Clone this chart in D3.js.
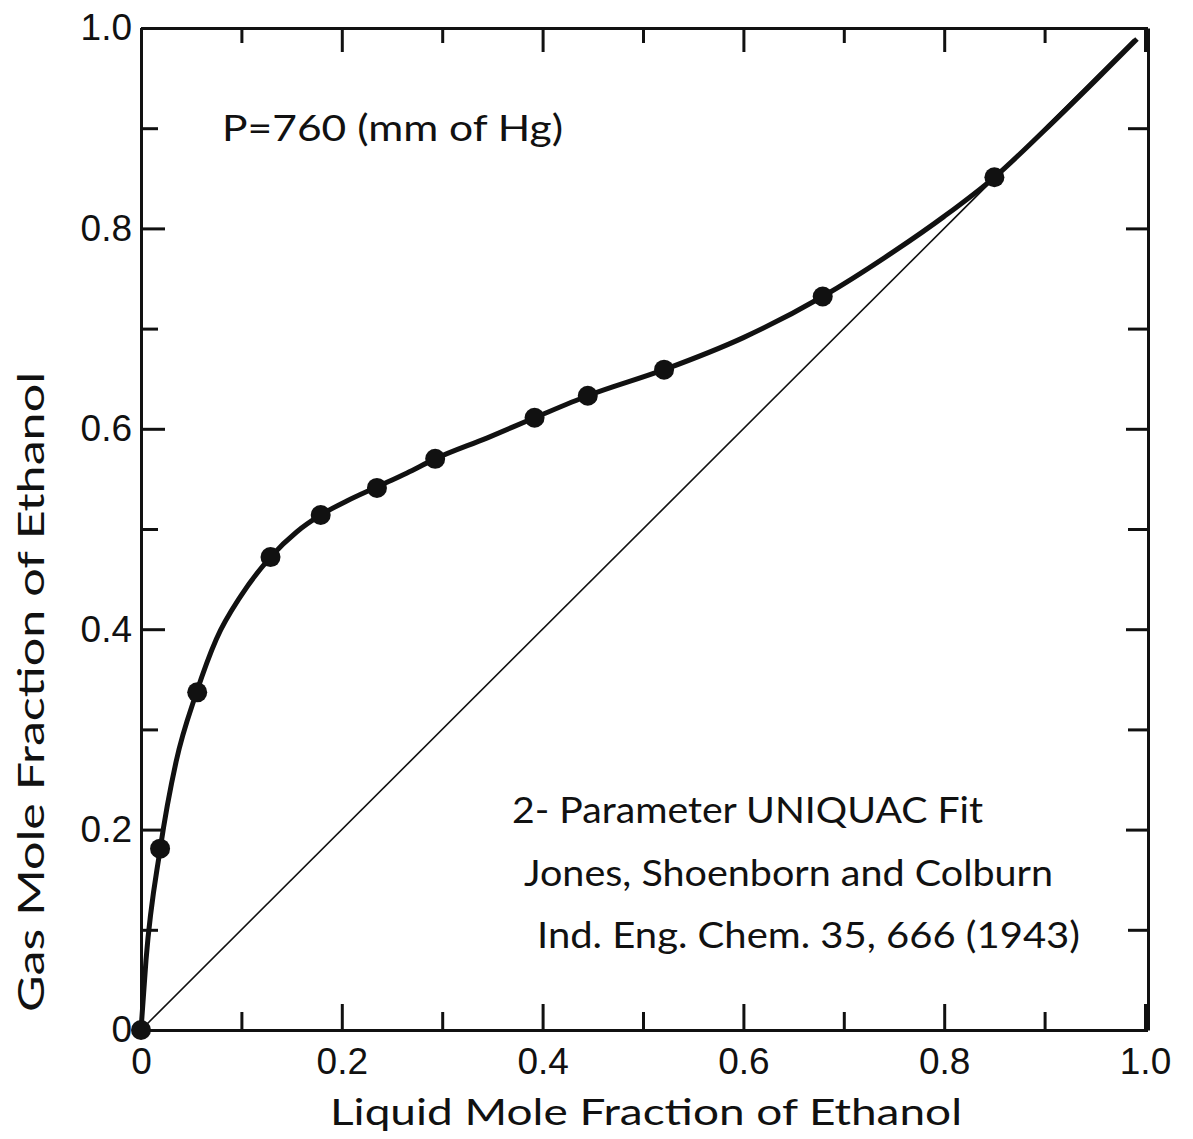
<!DOCTYPE html>
<html>
<head>
<meta charset="utf-8"/>
<script src="https://d3js.org/d3.v7.min.js"></script>
<style>
  body { margin: 0; background: #fff; }
  svg { display: block; font-family: Lato, "DejaVu Sans", sans-serif; }
  .axis path, .axis line { stroke: #111; stroke-width: 3; }
  .axis text { font-size: 37px; fill: #111; }
  .lbl { font-size: 37px; fill: #111; }
</style>
</head>
<body>
<div id="chart"></div>
<script>
// experimental points (liquid x, vapour y)
var liquidX = [0.0, 0.019, 0.056, 0.129, 0.179, 0.235, 0.293, 0.392, 0.445, 0.521, 0.679, 0.850];
var gasY    = [0.0, 0.181, 0.337, 0.472, 0.514, 0.541, 0.570, 0.611, 0.633, 0.659, 0.732, 0.851];

// UNIQUAC fit curve
var fitX = [0.0, 0.005, 0.019, 0.035, 0.055, 0.075, 0.100, 0.129, 0.155, 0.179, 0.205, 0.235, 0.265, 0.293, 0.345, 0.392, 0.445, 0.521, 0.600, 0.679, 0.750, 0.800, 0.850, 0.900, 0.950, 0.992];
var fitY = [0.0, 0.070, 0.180, 0.268, 0.336, 0.390, 0.434, 0.472, 0.497, 0.514, 0.528, 0.542, 0.556, 0.570, 0.591, 0.611, 0.633, 0.659, 0.691, 0.732, 0.777, 0.812, 0.851, 0.898, 0.947, 0.989];

// y = x reference line
var diagX = [0.0, 0.989];

var majorTicks = [0, 0.2, 0.4, 0.6, 0.8, 1.0];
var minorTicks = [0.1, 0.3, 0.5, 0.7, 0.9];
var majorLabels = ["0", "0.2", "0.4", "0.6", "0.8", "1.0"];

var W = 1193, H = 1139;
var x = d3.scaleLinear().domain([0, 1]).range([141, 1145]);
var y = d3.scaleLinear().domain([0, 1]).range([1030, 28]);

var svg = d3.select("#chart").append("svg")
    .attr("width", W)
    .attr("height", H);

function fmt(d) { return majorLabels[majorTicks.indexOf(d)]; }

// bottom axis
svg.append("g").attr("class", "axis")
    .attr("transform", "translate(0," + y(0) + ")")
    .call(d3.axisBottom(x).tickValues(majorTicks).tickFormat(fmt).tickSizeInner(-26).tickSizeOuter(0).tickPadding(18));
svg.append("g").attr("class", "axis")
    .attr("transform", "translate(0," + y(0) + ")")
    .call(d3.axisBottom(x).tickValues(minorTicks).tickFormat("").tickSizeInner(-18).tickSizeOuter(0))
    .select(".domain").remove();

// left axis
svg.append("g").attr("class", "axis")
    .attr("transform", "translate(" + x(0) + ",0)")
    .call(d3.axisLeft(y).tickValues(majorTicks).tickFormat(fmt).tickSizeInner(-24).tickSizeOuter(0).tickPadding(9));
svg.append("g").attr("class", "axis")
    .attr("transform", "translate(" + x(0) + ",0)")
    .call(d3.axisLeft(y).tickValues(minorTicks).tickFormat("").tickSizeInner(-17).tickSizeOuter(0))
    .select(".domain").remove();

// top axis
svg.append("g").attr("class", "axis")
    .attr("transform", "translate(0," + y(1) + ")")
    .call(d3.axisTop(x).tickValues(majorTicks).tickFormat("").tickSizeInner(-24).tickSizeOuter(0));
svg.append("g").attr("class", "axis")
    .attr("transform", "translate(0," + y(1) + ")")
    .call(d3.axisTop(x).tickValues(minorTicks).tickFormat("").tickSizeInner(-15).tickSizeOuter(0))
    .select(".domain").remove();

// right axis
svg.append("g").attr("class", "axis")
    .attr("transform", "translate(" + (x(1) + 3) + ",0)")
    .call(d3.axisRight(y).tickValues(majorTicks).tickFormat("").tickSizeInner(-22).tickSizeOuter(0));
svg.append("g").attr("class", "axis")
    .attr("transform", "translate(" + (x(1) + 3) + ",0)")
    .call(d3.axisRight(y).tickValues(minorTicks).tickFormat("").tickSizeInner(-20).tickSizeOuter(0))
    .select(".domain").remove();

// diagonal
svg.append("line")
    .attr("x1", x(diagX[0])).attr("y1", y(diagX[0]))
    .attr("x2", x(diagX[1])).attr("y2", y(diagX[1]))
    .attr("stroke", "#111").attr("stroke-width", 1.6);

// fit curve
var line = d3.line()
    .x(function(d) { return x(d[0]); })
    .y(function(d) { return y(d[1]); })
    .curve(d3.curveMonotoneX);
svg.append("path")
    .datum(fitX.map(function(v, i) { return [v, fitY[i]]; }))
    .attr("d", line)
    .attr("fill", "none")
    .attr("stroke", "#111")
    .attr("stroke-width", 5);

// points
svg.selectAll("circle.pt")
    .data(liquidX.map(function(v, i) { return [v, gasY[i]]; }))
    .enter().append("circle")
    .attr("class", "pt")
    .attr("cx", function(d) { return x(d[0]); })
    .attr("cy", function(d) { return y(d[1]); })
    .attr("r", 10)
    .attr("fill", "#111");

// texts
function label(t, px, py, len) {
    svg.append("text").attr("class", "lbl")
        .attr("x", px).attr("y", py)
        .attr("textLength", len).attr("lengthAdjust", "spacingAndGlyphs")
        .text(t);
}
label("P=760 (mm of Hg)", 222, 141, 341);
label("2- Parameter UNIQUAC Fit", 512, 823, 471);
label("Jones, Shoenborn and Colburn", 524, 886, 529);
label("Ind. Eng. Chem. 35, 666 (1943)", 537, 948, 543);
label("Liquid  Mole  Fraction of Ethanol", 330, 1125, 632);

svg.append("text").attr("class", "lbl")
    .attr("transform", "translate(44,1012) rotate(-90)")
    .attr("textLength", 640).attr("lengthAdjust", "spacingAndGlyphs")
    .text("Gas  Mole  Fraction of Ethanol");
</script>
</body>
</html>
